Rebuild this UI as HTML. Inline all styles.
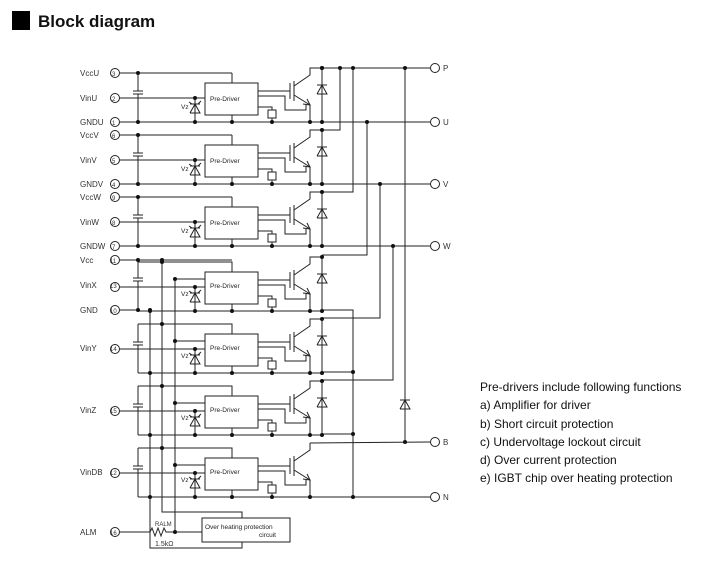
<!DOCTYPE html>
<html><head><meta charset="utf-8"><style>
html,body{margin:0;padding:0;background:#fff;width:712px;height:569px;overflow:hidden}
svg{display:block}
.t{font-family:"Liberation Sans",sans-serif;fill:#111}
.s{font-family:"Liberation Sans",sans-serif;fill:#333;font-size:8px}
.b{font-family:"Liberation Sans",sans-serif;fill:#222;font-size:6.5px}
</style></head><body>
<svg id="d" width="712" height="569" viewBox="0 0 712 569" xmlns="http://www.w3.org/2000/svg">
<rect x="12" y="11" width="18" height="19" fill="#000"/>
<text x="38" y="27" class="t" style="font-size:17px;font-weight:bold">Block diagram</text>
<g class="t" style="font-size:12px">
<text x="480" y="391">Pre-drivers include following functions</text>
<text x="480" y="409">a) Amplifier for driver</text>
<text x="480" y="428">b) Short circuit protection</text>
<text x="480" y="446">c) Undervoltage lockout circuit</text>
<text x="480" y="464">d) Over current protection</text>
<text x="480" y="482">e) IGBT chip over heating protection</text>
</g>
<g class="s">
<text x="80" y="76">VccU</text><text x="80" y="101">VinU</text><text x="80" y="125">GNDU</text>
<text x="80" y="138">VccV</text><text x="80" y="163">VinV</text><text x="80" y="187">GNDV</text>
<text x="80" y="200">VccW</text><text x="80" y="225">VinW</text><text x="80" y="249">GNDW</text>
<text x="80" y="263">Vcc</text><text x="80" y="288">VinX</text><text x="80" y="313">GND</text>
<text x="80" y="351">VinY</text><text x="80" y="413">VinZ</text><text x="80" y="475">VinDB</text>
<text x="80" y="535">ALM</text>
<text x="443" y="71">P</text><text x="443" y="125">U</text><text x="443" y="187">V</text>
<text x="443" y="249">W</text><text x="443" y="445">B</text><text x="443" y="500">N</text>
<text x="155" y="546" style="font-size:7px">1.5kΩ</text>
<text x="155" y="526" style="font-size:6px">RALM</text>
</g>
<g class="b">
<text x="210" y="101">Pre-Driver</text><text x="210" y="163">Pre-Driver</text><text x="210" y="225">Pre-Driver</text>
<text x="210" y="288">Pre-Driver</text><text x="210" y="350">Pre-Driver</text><text x="210" y="412">Pre-Driver</text>
<text x="210" y="474">Pre-Driver</text>
<text x="205" y="529">Over heating protection</text><text x="259" y="537">circuit</text>
<text x="181" y="109">Vz</text><text x="181" y="171">Vz</text><text x="181" y="233">Vz</text>
<text x="181" y="296">Vz</text><text x="181" y="358">Vz</text><text x="181" y="420">Vz</text><text x="181" y="482">Vz</text>
</g>
<g class="s" style="font-size:6px">
<text x="112" y="76">3</text><text x="112" y="101">2</text><text x="112" y="125">1</text>
<text x="112" y="138">6</text><text x="112" y="163">5</text><text x="112" y="187">4</text>
<text x="112" y="200">9</text><text x="112" y="225">8</text><text x="112" y="249">7</text>
<text x="110" y="263">11</text><text x="110" y="288">13</text><text x="110" y="313">10</text>
<text x="110" y="351">14</text><text x="110" y="413">15</text><text x="110" y="475">12</text><text x="110" y="535">16</text>
</g>
<g id="g" stroke="#222" stroke-width="1" fill="none"></g>
<g id="dots" fill="#111"></g>
</svg>
<script>
var g=document.getElementById('g'),D=document.getElementById('dots'),NS='http://www.w3.org/2000/svg';
function L(p){var e=document.createElementNS(NS,'polyline');e.setAttribute('points',p);g.appendChild(e);}
function R(x,y,w,h){var e=document.createElementNS(NS,'rect');e.setAttribute('x',x);e.setAttribute('y',y);e.setAttribute('width',w);e.setAttribute('height',h);g.appendChild(e);}
function C(x,y,r){var e=document.createElementNS(NS,'circle');e.setAttribute('cx',x);e.setAttribute('cy',y);e.setAttribute('r',r);g.appendChild(e);}
function d(x,y){var e=document.createElementNS(NS,'circle');e.setAttribute('cx',x);e.setAttribute('cy',y);e.setAttribute('r',2);D.appendChild(e);}
function pin(y){C(115,y,4.5);}
function diode(x,y){L(x-5+','+(y+9)+' '+(x+5)+','+(y+9)+' '+x+','+y+' '+(x-5)+','+(y+9));L((x-5)+','+y+' '+(x+5)+','+y);}
function cell(bt,nodiode){
 var vin=bt+15,gnd=bt+39,col=bt-15;
 R(205,bt,53,32);
 L('120,'+vin+' 205,'+vin); d(195,vin);
 L('195,'+vin+' 195,'+gnd);
 diode(195,bt+21); L('189,'+(bt+19)+' 192,'+(bt+21));L('198,'+(bt+21)+' 201,'+(bt+18));
 d(195,gnd);
 L('232,'+(bt+32)+' 232,'+gnd); d(232,gnd);
 L('258,'+(bt+8)+' 290,'+(bt+8));
 L('258,'+(bt+13)+' 285,'+(bt+13)+' 285,'+(bt+27)+' 306,'+(bt+27)+' 306,'+(bt+22));
 L('258,'+(bt+24)+' 272,'+(bt+24)+' 272,'+(bt+27)); R(268,bt+27,8,8); L('272,'+(bt+35)+' 272,'+gnd); d(272,gnd);
 L('290,'+(bt+0)+' 290,'+(bt+16)); L('294,'+(bt-2)+' 294,'+(bt+18));
 L('303,'+(bt+21)+' 310,'+(bt+22)+' 307,'+(bt+16));
 L('294,'+(bt+12)+' 310,'+(bt+22)+' 310,'+gnd);
 d(310,gnd);
 if(nodiode){L('294,'+(bt+3)+' 310,'+(bt-8)+' 310,'+col);return;}
 L('294,'+(bt+3)+' 310,'+(bt-8)+' 310,'+col+' 322,'+col);
 L('322,'+col+' 322,'+gnd); diode(322,bt+2); d(322,col); d(322,gnd);
 L('232,'+bt+' 232,'+(bt-10));
}
[[83,'U'],[145,'V'],[207,'W']].forEach(function(a){var bt=a[0],vcc=bt-10,gnd=bt+39;
 cell(bt);pin(vcc);pin(bt+15);pin(gnd);
 L('120,'+vcc+' 232,'+vcc);L('120,'+gnd+' 322,'+gnd);d(138,vcc);d(138,gnd);
 L('138,'+vcc+' 138,'+(bt+8));L('133,'+(bt+8)+' 143,'+(bt+8));L('133,'+(bt+11)+' 143,'+(bt+11));L('138,'+(bt+11)+' 138,'+gnd);
});
[272,334,396,458].forEach(function(bt,i){var gnd=bt+39;cell(bt,i==3);pin(bt+15);
 L('138,'+(bt-10)+' 232,'+(bt-10)+' 232,'+bt);d(162,bt-10);
 L('175,'+(bt+7)+' 205,'+(bt+7));d(175,bt+7);
 L('138,'+gnd+' 322,'+gnd);d(150,gnd);
 if(i>0){L('138,'+(bt-10)+' 138,'+(bt+8));L('133,'+(bt+8)+' 143,'+(bt+8));L('133,'+(bt+11)+' 143,'+(bt+11));L('138,'+(bt+11)+' 138,'+gnd);}
});
pin(260);pin(310);pin(532);
L('120,260 232,260');d(138,260);d(162,260);L('138,260 138,278');L('133,278 143,278');L('133,281 143,281');L('138,281 138,310');d(138,310);
L('120,310 138,310');d(150,310);
L('150,310 150,548 242,548 242,542');
L('162,260 162,512 242,512 242,518');
L('175,279 175,532');d(175,532);
L('120,532 150,532');L('150,532 152,528 155,536 158,528 161,536 164,528 166,532 202,532');
R(202,518,88,24);
L('310,68 430,68');[322,340,353,405].forEach(function(x){d(x,68)});
L('322,122 430,122');d(367,122);
L('322,184 430,184');d(380,184);
L('322,246 430,246');d(393,246);
L('340,68 340,130 322,130');L('353,68 353,192 322,192');
L('367,122 367,255 322,255');L('380,184 380,318 322,318');L('393,246 393,380 322,380');
L('322,310 353,310 353,497');d(353,372);d(353,434);d(353,497);
L('322,372 353,372');L('322,434 353,434');
L('310,443 430,442');d(405,442);L('405,68 405,442');diode(405,400);
L('150,497 430,497');
[68,122,184,246,442,497].forEach(function(y){C(435,y,4.5)});
</script>
</body></html>
